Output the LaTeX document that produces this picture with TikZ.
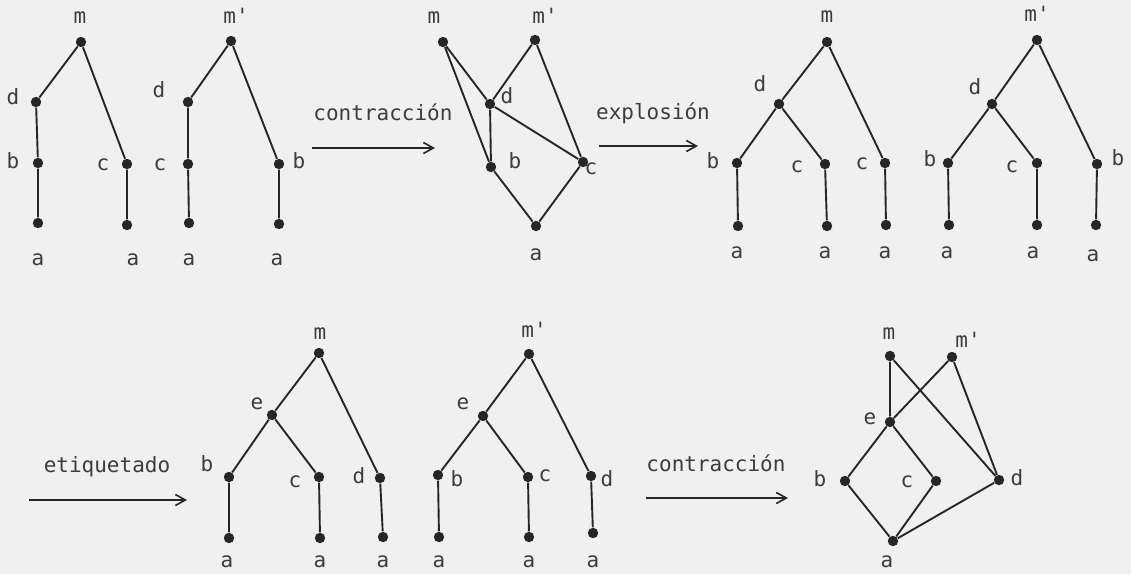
\documentclass[tikz,border=0pt]{standalone}
\usepackage{fontspec}
\setmonofont{DejaVu Sans Mono}
\usetikzlibrary{arrows.meta}
\definecolor{ink}{RGB}{38,38,38}
\definecolor{paper}{RGB}{240,240,240}
\tikzset{
  dot/.style={circle, fill=ink, inner sep=0pt, minimum size=5.2pt},
  lbl/.style={font=\ttfamily\fontsize{10.5}{12}\selectfont, text=ink!90,
              inner sep=0pt, text height=1ex, text depth=0pt},
  edg/.style={draw=ink, line width=0.95pt},
  arr/.style={draw=ink, line width=0.8pt, -{Straight Barb[length=5pt,width=5.5pt]}},
}

\begin{document}
\begin{tikzpicture}[x=0.5pt, y=-0.5pt]
  \path[fill=paper] (0,0) rectangle (1131,574);

  % first pair of trees
  \node[dot] (pm)  at (81,42)   {};
  \node[dot] (pd)  at (36,102)  {};
  \node[dot] (pb)  at (38,163)  {};
  \node[dot] (pa1) at (38,223)  {};
  \node[dot] (pc)  at (127,164) {};
  \node[dot] (pa2) at (127,225) {};
  \draw[edg] (pm) -- (pd) -- (pb) -- (pa1);
  \draw[edg] (pm) -- (pc) -- (pa2);
  \node[lbl] (pmL)  at (80,19)   {m};
  \node[lbl] (pdL)  at (13,100)  {d};
  \node[lbl] (pbL)  at (13,164)  {b};
  \node[lbl] (pcL)  at (103,166) {c};
  \node[lbl] (pa1L) at (38,261)  {a};
  \node[lbl] (pa2L) at (133,261) {a};

  \node[dot] (qm)  at (231,41)  {};
  \node[dot] (qd)  at (188,102) {};
  \node[dot] (qc)  at (188,164) {};
  \node[dot] (qa1) at (189,223) {};
  \node[dot] (qb)  at (279,164) {};
  \node[dot] (qa2) at (279,224) {};
  \draw[edg] (qm) -- (qd) -- (qc) -- (qa1);
  \draw[edg] (qm) -- (qb) -- (qa2);
  \node[lbl] (qmL)  at (236,19)  {m'};
  \node[lbl] (qdL)  at (159,93)  {d};
  \node[lbl] (qcL)  at (160,166) {c};
  \node[lbl] (qbL)  at (299,164) {b};
  \node[lbl] (qa1L) at (189,261) {a};
  \node[lbl] (qa2L) at (277,261) {a};

  % contraccion
  \coordinate (k1s) at (312,148);
  \coordinate (k1e) at (435,148);
  \draw[arr] (k1s) -- (k1e);
  \node[lbl] (k1L) at (383,116) {contracción};

  \node[dot] (rm)  at (443,42)  {};
  \node[dot] (rmp) at (535,40)  {};
  \node[dot] (rd)  at (490,104) {};
  \node[dot] (rb)  at (491,167) {};
  \node[dot] (rc)  at (583,162) {};
  \node[dot] (ra)  at (536,226) {};
  \draw[edg] (rm) -- (rd) -- (rb) -- (ra) -- (rc) -- (rmp) -- (rd) -- (rc);
  \draw[edg] (rm) -- (rb);
  \node[lbl] (rmL)  at (434,19)  {m};
  \node[lbl] (rmpL) at (545,19)  {m'};
  \node[lbl] (rdL)  at (507,99)  {d};
  \node[lbl] (rbL)  at (515,164) {b};
  \node[lbl] (rcL)  at (591,170) {c};
  \node[lbl] (raL)  at (536,256) {a};

  % explosion
  \coordinate (k2s) at (599,146);
  \coordinate (k2e) at (698,146);
  \draw[arr] (k2s) -- (k2e);
  \node[lbl] (k2L) at (653,115) {explosión};

  \node[dot] (sm)  at (827,42)  {};
  \node[dot] (sd)  at (779,104) {};
  \node[dot] (sb)  at (737,163) {};
  \node[dot] (sa1) at (738,226) {};
  \node[dot] (sc1) at (825,164) {};
  \node[dot] (sa2) at (827,226) {};
  \node[dot] (sc2) at (885,163) {};
  \node[dot] (sa3) at (886,225) {};
  \draw[edg] (sm) -- (sd) -- (sb) -- (sa1);
  \draw[edg] (sd) -- (sc1) -- (sa2);
  \draw[edg] (sm) -- (sc2) -- (sa3);
  \node[lbl] (smL)  at (827,18)  {m};
  \node[lbl] (sdL)  at (760,87)  {d};
  \node[lbl] (sbL)  at (713,164) {b};
  \node[lbl] (sc1L) at (797,168) {c};
  \node[lbl] (sc2L) at (862,165) {c};
  \node[lbl] (sa1L) at (737,254) {a};
  \node[lbl] (sa2L) at (825,254) {a};
  \node[lbl] (sa3L) at (885,254) {a};

  \node[dot] (tm)  at (1037,40)  {};
  \node[dot] (td)  at (992,104)  {};
  \node[dot] (tb1) at (948,163)  {};
  \node[dot] (ta1) at (949,225)  {};
  \node[dot] (tc)  at (1037,163) {};
  \node[dot] (ta2) at (1037,225) {};
  \node[dot] (tb2) at (1097,164) {};
  \node[dot] (ta3) at (1096,225) {};
  \draw[edg] (tm) -- (td) -- (tb1) -- (ta1);
  \draw[edg] (td) -- (tc) -- (ta2);
  \draw[edg] (tm) -- (tb2) -- (ta3);
  \node[lbl] (tmL)  at (1037,17)  {m'};
  \node[lbl] (tdL)  at (975,90)   {d};
  \node[lbl] (tb1L) at (930,162)  {b};
  \node[lbl] (tcL)  at (1012,168) {c};
  \node[lbl] (tb2L) at (1118,161) {b};
  \node[lbl] (ta1L) at (947,254)  {a};
  \node[lbl] (ta2L) at (1033,254) {a};
  \node[lbl] (ta3L) at (1093,257) {a};

  % etiquetado
  \coordinate (k3s) at (29,500);
  \coordinate (k3e) at (187,500);
  \draw[arr] (k3s) -- (k3e);
  \node[lbl] (k3L) at (107,468) {etiquetado};

  \node[dot] (um)  at (319,353) {};
  \node[dot] (ue)  at (272,415) {};
  \node[dot] (ub)  at (229,477) {};
  \node[dot] (ua1) at (229,538) {};
  \node[dot] (uc)  at (319,477) {};
  \node[dot] (ua2) at (320,538) {};
  \node[dot] (ud)  at (380,478) {};
  \node[dot] (ua3) at (383,537) {};
  \draw[edg] (um) -- (ue) -- (ub) -- (ua1);
  \draw[edg] (ue) -- (uc) -- (ua2);
  \draw[edg] (um) -- (ud) -- (ua3);
  \node[lbl] (umL)  at (320,335) {m};
  \node[lbl] (ueL)  at (257,405) {e};
  \node[lbl] (ubL)  at (207,467) {b};
  \node[lbl] (ucL)  at (295,483) {c};
  \node[lbl] (udL)  at (359,479) {d};
  \node[lbl] (ua1L) at (227,563) {a};
  \node[lbl] (ua2L) at (320,563) {a};
  \node[lbl] (ua3L) at (383,563) {a};

  \node[dot] (vm)  at (529,354) {};
  \node[dot] (ve)  at (483,416) {};
  \node[dot] (vb)  at (438,475) {};
  \node[dot] (va1) at (439,537) {};
  \node[dot] (vc)  at (528,477) {};
  \node[dot] (va2) at (529,537) {};
  \node[dot] (vd)  at (591,476) {};
  \node[dot] (va3) at (593,533) {};
  \draw[edg] (vm) -- (ve) -- (vb) -- (va1);
  \draw[edg] (ve) -- (vc) -- (va2);
  \draw[edg] (vm) -- (vd) -- (va3);
  \node[lbl] (vmL)  at (534,333) {m'};
  \node[lbl] (veL)  at (463,405) {e};
  \node[lbl] (vbL)  at (457,482) {b};
  \node[lbl] (vcL)  at (545,477) {c};
  \node[lbl] (vdL)  at (607,482) {d};
  \node[lbl] (va1L) at (439,563) {a};
  \node[lbl] (va2L) at (529,563) {a};
  \node[lbl] (va3L) at (593,563) {a};

  % contraccion again
  \coordinate (k4s) at (646,498);
  \coordinate (k4e) at (788,498);
  \draw[arr] (k4s) -- (k4e);
  \node[lbl] (k4L) at (716,467) {contracción};

  \node[dot] (wm)  at (890,356) {};
  \node[dot] (wmp) at (952,357) {};
  \node[dot] (we)  at (890,422) {};
  \node[dot] (wb)  at (845,481) {};
  \node[dot] (wc)  at (936,481) {};
  \node[dot] (wd)  at (999,480) {};
  \node[dot] (wa)  at (893,541) {};
  \draw[edg] (wm) -- (we) -- (wb) -- (wa) -- (wc) -- (we) -- (wmp) -- (wd) -- (wm);
  \draw[edg] (wd) -- (wa);
  \node[lbl] (wmL)  at (889,335) {m};
  \node[lbl] (wmpL) at (968,343) {m'};
  \node[lbl] (weL)  at (870,420) {e};
  \node[lbl] (wbL)  at (820,482) {b};
  \node[lbl] (wcL)  at (907,483) {c};
  \node[lbl] (wdL)  at (1017,481) {d};
  \node[lbl] (waL)  at (887,563) {a};
\end{tikzpicture}
\end{document}
